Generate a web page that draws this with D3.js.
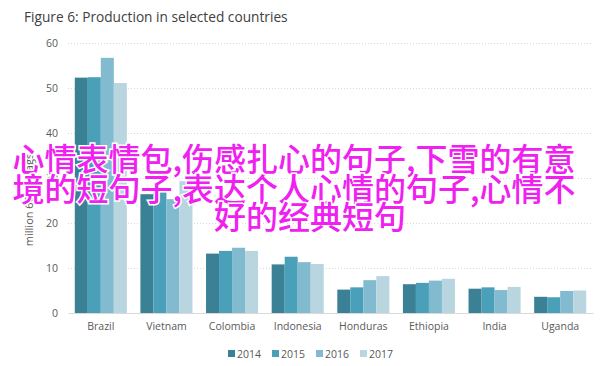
<!DOCTYPE html>
<meta charset="utf-8">
<style>
  body { margin: 0; background: #fff; }
  svg { position: absolute; top: 0; left: 0; }
  text { font-family: 'Open Sans', sans-serif; fill: #595959; }
  .title { font-size: 13.7px; fill: #404040; }
  .tick text { font-size: 10.5px; }
  .overlay text {
    font-family: 'Noto Sans CJK SC', sans-serif;
    font-size: 32px;
    font-weight: 500;
    fill: #f020f0;
    stroke: #fff;
    stroke-width: 3px;
    paint-order: stroke;
    text-anchor: middle;
  }
</style>
<script src="https://d3js.org/d3.v7.min.js"></script>

<svg width="612" height="366"></svg>

<script>
  var countries = ["Brazil", "Vietnam", "Colombia", "Indonesia", "Honduras", "Ethiopia", "India", "Uganda"];
  var years = ["2014", "2015", "2016", "2017"];
  var v2014 = [52.3, 26.4, 13.2, 10.8, 5.2, 6.4, 5.4, 3.6];
  var v2015 = [52.4, 27.7, 13.8, 12.5, 5.7, 6.7, 5.7, 3.5];
  var v2016 = [56.7, 25.3, 14.5, 11.3, 7.3, 7.2, 5.1, 4.9];
  var v2017 = [51.1, 29.3, 13.8, 10.9, 8.2, 7.6, 5.8, 5.0];
  var yTicks = [0, 10, 20, 30, 40, 50, 60];
  var colors = ["#3b8196", "#4aa0b8", "#82bbd0", "#b8d5e0"];
  var overlayLines = ["心情表情包,伤感扎心的句子,下雪的有意", "境的短句子,表达个人心情的句子,心情不", "好的经典短句"];

  var series = [v2014, v2015, v2016, v2017];
  var svg = d3.select("svg");

  var x = d3.scaleBand().domain(countries).range([68, 593]).paddingInner(0.207).paddingOuter(0.1035);
  var xs = d3.scaleBand().domain(years).range([0, x.bandwidth()]);
  var y = d3.scaleLinear().domain([0, 60]).range([313, 43]);

  svg.append("text").attr("class", "title")
    .attr("x", 24).attr("y", 22)
    .text("Figure 6: Production in selected countries");

  // grid
  svg.append("g").selectAll("line")
    .data(yTicks.filter(function(d) { return d > 0; }))
    .enter().append("line")
    .attr("x1", 68).attr("x2", 593)
    .attr("y1", function(d) { return y(d) + 0.5; })
    .attr("y2", function(d) { return y(d) + 0.5; })
    .attr("stroke", "#d9d9d9")
    .attr("stroke-dasharray", "1,2");

  var yAxis = svg.append("g")
    .attr("transform", "translate(62,0)")
    .call(d3.axisLeft(y).tickValues(yTicks).tickSize(0).tickPadding(4));
  yAxis.select(".domain").remove();

  svg.append("text")
    .attr("transform", "translate(33,200) rotate(-90)")
    .attr("text-anchor", "middle")
    .style("font-size", "11px")
    .text("million 60-kg bags");

  // bars
  var groups = svg.append("g").selectAll("g")
    .data(countries)
    .enter().append("g")
    .attr("transform", function(d) { return "translate(" + x(d) + ",0)"; });

  groups.selectAll("rect")
    .data(function(c, i) { return years.map(function(yr, j) { return { yr: yr, v: series[j][i], j: j }; }); })
    .enter().append("rect")
    .attr("x", function(d) { return xs(d.yr); })
    .attr("width", xs.bandwidth())
    .attr("y", function(d) { return y(d.v); })
    .attr("height", function(d) { return y(0) - y(d.v); })
    .attr("fill", function(d) { return colors[d.j]; });

  var xAxis = svg.append("g")
    .attr("transform", "translate(0,313)")
    .call(d3.axisBottom(x).tickSize(0).tickPadding(10));
  xAxis.select(".domain").attr("stroke", "#d9d9d9");
  xAxis.selectAll("text").style("font-size", "10.5px");

  // legend
  var legend = svg.append("g").selectAll("g")
    .data(years)
    .enter().append("g")
    .attr("transform", function(d, i) { return "translate(" + (228 + i * 44) + ",350)"; });
  legend.append("rect").attr("width", 7).attr("height", 7)
    .attr("fill", function(d, i) { return colors[i]; });
  legend.append("text").attr("x", 9).attr("y", 7.5)
    .style("font-size", "10.5px")
    .text(function(d) { return d; });

  // overlay text
  var ov = svg.append("g").attr("class", "overlay");
  ov.selectAll("text")
    .data(overlayLines)
    .enter().append("text")
    .attr("x", function(d, i) { return i < 2 ? 294 : 310; })
    .attr("y", function(d, i) { return [171, 201, 229][i]; })
    .text(function(d) { return d; });
</script>
